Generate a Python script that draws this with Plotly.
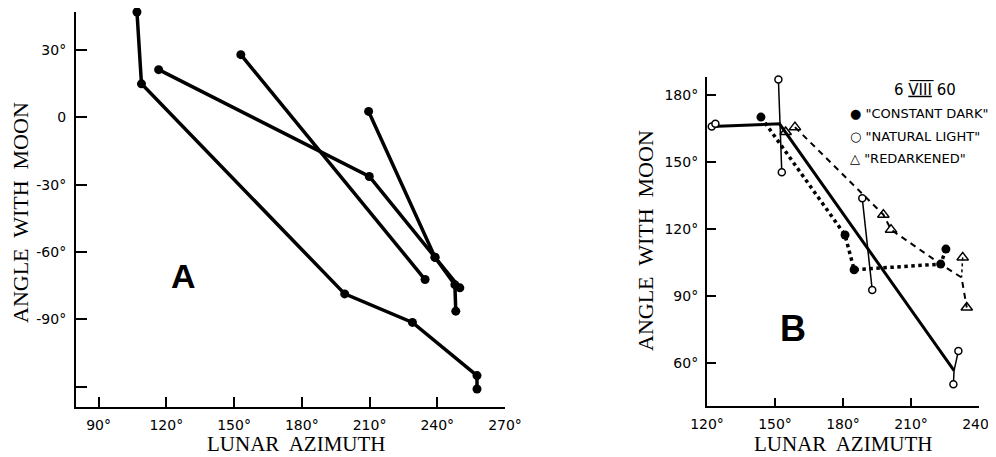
import plotly.graph_objects as go

# The page body has an 8px margin, so the figure is drawn 8px smaller and
# every reference pixel position is shifted by OFF.
OFF = 8
W, H = 996 - OFF, 457 - OFF


def PX(px):
    return (px - OFF) / W


def PY(py):
    return 1 - (py - OFF) / H


# ---------------- Panel A data ----------------
a1_x = [107, 109, 199, 229, 257.6, 257.6]
a1_y = [47, 15, -78.6, -91.3, -115, -121]
a2_x = [116.6, 209.9, 239, 250]
a2_y = [21.3, -26.3, -62.3, -75.9]
a3_x = [153, 234.6]
a3_y = [28, -72.2]
a4_x = [209.6, 239, 247.8, 248.2]
a4_y = [2.7, -62.3, -74.5, -86.3]

a_xticks = [90, 120, 150, 180, 210, 240, 270]
a_xlabels = ["90°", "120°", "150°", "180°", "210°", "240°", "270°"]
a_yticks = [30, 0, -30, -60, -90, -120]
a_ylabels = ["30°", "0", "-30°", "-60°", "-90°", ""]

# ---------------- Panel B data ----------------
# "CONSTANT DARK" (filled circles, dotted line)
cd_x = [143.8, 180.9, 184.9, 223.1, 225.4]
cd_y = [170.0, 117.3, 101.8, 104.3, 111.0]
# "NATURAL LIGHT" (open circles, thin lines)
nl_x = [122.1, 123.7, 151.5, 153.0, 188.5, 192.9, 230.9, 228.7]
nl_y = [165.8, 167.0, 186.8, 145.3, 133.7, 92.7, 65.5, 50.6]
nl_pair1_x = [151.5, 153.0]
nl_pair1_y = [186.8, 145.3]
nl_pair2_x = [188.5, 192.9]
nl_pair2_y = [133.7, 92.7]
nl_pair3_x = [230.9, 229.0, 228.7]
nl_pair3_y = [65.5, 56.7, 50.6]
# "REDARKENED" (open triangles, dashed line)
rd_x = [154.7, 158.8, 197.8, 201.2, 232.8, 234.6]
rd_y = [163.3, 165.5, 126.4, 119.7, 107.3, 84.9]
rd_line_x = [158.8, 197.8, 201.2, 223.1, 232.3, 234.6]
rd_line_y = [165.5, 126.4, 119.7, 104.3, 98.3, 84.9]
rd_branch_x = [232.8, 232.3]
rd_branch_y = [107.3, 98.3]
# thick mean line
mean_x = [122.1, 152.0, 229.0]
mean_y = [165.8, 167.0, 56.7]

b_xticks = [120, 150, 180, 210, 240]
b_xlabels = ["120°", "150°", "180°", "210°", "240°"]
b_yticks = [60, 90, 120, 150, 180]
b_ylabels = ["60°", "90°", "120°", "150°", "180°"]

legend_title = "6 <u>V\u0305I\u0305I\u0305I\u0305</u> 60"
legend_labels = ['"CONSTANT DARK"', '"NATURAL LIGHT"', '"REDARKENED"']
legend_symbols = ["●", "○", "△"]

fig = go.Figure()

for xs, ys in [(a1_x, a1_y), (a2_x, a2_y), (a3_x, a3_y), (a4_x, a4_y)]:
    fig.add_trace(go.Scatter(x=xs, y=ys, mode="lines+markers",
                             line=dict(color="black", width=3.5),
                             marker=dict(color="black", size=9),
                             xaxis="x", yaxis="y", showlegend=False,
                             cliponaxis=False))

# Panel B lines
fig.add_trace(go.Scatter(x=mean_x, y=mean_y, mode="lines",
                         line=dict(color="black", width=3),
                         xaxis="x2", yaxis="y2", showlegend=False))
for xs, ys in [(nl_pair1_x, nl_pair1_y), (nl_pair2_x, nl_pair2_y), (nl_pair3_x, nl_pair3_y)]:
    fig.add_trace(go.Scatter(x=xs, y=ys, mode="lines",
                             line=dict(color="black", width=1.5),
                             xaxis="x2", yaxis="y2", showlegend=False))
fig.add_trace(go.Scatter(x=cd_x, y=cd_y, mode="lines",
                         line=dict(color="black", width=3.5, dash="dot"),
                         xaxis="x2", yaxis="y2", showlegend=False))
fig.add_trace(go.Scatter(x=rd_line_x, y=rd_line_y, mode="lines",
                         line=dict(color="black", width=2, dash="6px,5px"),
                         xaxis="x2", yaxis="y2", showlegend=False))
fig.add_trace(go.Scatter(x=rd_branch_x, y=rd_branch_y, mode="lines",
                         line=dict(color="black", width=1.5, dash="3px,3px"),
                         xaxis="x2", yaxis="y2", showlegend=False))
# Panel B markers
fig.add_trace(go.Scatter(x=cd_x, y=cd_y, mode="markers",
                         marker=dict(color="black", size=9),
                         xaxis="x2", yaxis="y2", showlegend=False, cliponaxis=False))
fig.add_trace(go.Scatter(x=nl_x, y=nl_y, mode="markers",
                         marker=dict(color="white", size=7, line=dict(color="black", width=1.5)),
                         xaxis="x2", yaxis="y2", showlegend=False, cliponaxis=False))
fig.add_trace(go.Scatter(x=rd_x, y=rd_y, mode="markers",
                         marker=dict(symbol="triangle-up-open", color="black", size=10,
                                     line=dict(color="black", width=1.5)),
                         xaxis="x2", yaxis="y2", showlegend=False, cliponaxis=False))

tickfont = dict(family="DejaVu Sans, Verdana, sans-serif", size=14, color="black")
axcommon = dict(showgrid=False, zeroline=False, showline=True, linecolor="black",
                linewidth=2, ticks="inside", tickcolor="black", tickwidth=1.5,
                mirror=False, tickfont=tickfont, automargin=False)

fig.update_layout(
    width=W, height=H,
    margin=dict(l=0, r=0, t=0, b=0, pad=0),
    paper_bgcolor="white", plot_bgcolor="white",
    showlegend=False,
    xaxis=dict(domain=[PX(76), PX(505)], range=[80, 270], tickvals=a_xticks,
               ticktext=a_xlabels, ticklen=10, ticklabelstandoff=4, anchor="y", **axcommon),
    yaxis=dict(domain=[PY(407), PY(12)], range=[-129, 47], tickvals=a_yticks,
               ticktext=a_ylabels, ticklen=11, ticklabelstandoff=5, anchor="x", **axcommon),
    xaxis2=dict(domain=[PX(707), PX(979)], range=[120, 240], tickvals=b_xticks,
                ticktext=b_xlabels, ticklen=8, ticklabelstandoff=4, anchor="y2", **axcommon),
    yaxis2=dict(domain=[PY(406), PY(77)], range=[40.9, 187.9], tickvals=b_yticks,
                ticktext=b_ylabels, ticklen=9, ticklabelstandoff=4, anchor="x2", **axcommon),
)

serif = dict(family="Liberation Serif, Times New Roman, serif", size=22, color="black")
serif_x = dict(family="Liberation Serif, Times New Roman, serif", size=21, color="black")
ann = [
    dict(text="ANGLE  WITH  MOON", x=20, y=213, textangle=-90, font=serif),
    dict(text="ANGLE  WITH  MOON", x=645, y=241, textangle=-90, font=serif),
    dict(text="<b>A</b>", x=183, y=276, font=dict(family="Liberation Sans, Arial", size=34, color="black")),
    dict(text="<b>B</b>", x=793, y=328, font=dict(family="Liberation Sans, Arial", size=36, color="black")),
    dict(text=legend_title, x=925, y=90, font=dict(family="DejaVu Sans, Verdana", size=15, color="black")),
]
for a in ann:
    a.update(xref="paper", yref="paper", x=PX(a["x"]), y=PY(a["y"]),
             showarrow=False, xanchor="center", yanchor="middle")
    fig.add_annotation(**a)

# x-axis titles anchored to the bottom edge so they stay inside the page
for cx in [296, 843]:
    fig.add_annotation(text="LUNAR  AZIMUTH", xref="paper", yref="paper",
                       x=PX(cx), y=0, xanchor="center", yanchor="bottom",
                       borderpad=0, showarrow=False, font=serif_x)

legend_font = dict(family="DejaVu Sans, Verdana", size=13, color="black")
for sym, label, py in zip(legend_symbols, legend_labels, [113, 136, 158]):
    fig.add_annotation(text=f"{sym} {label}", xref="paper", yref="paper",
                       x=PX(849), y=PY(py), xanchor="left", yanchor="middle",
                       borderpad=0, showarrow=False, font=legend_font)

fig.write_html("out.html")
